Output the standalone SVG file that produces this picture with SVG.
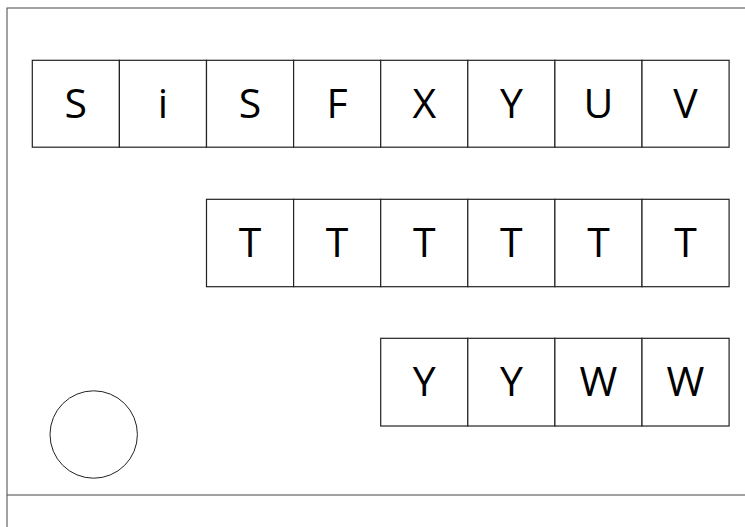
<svg xmlns="http://www.w3.org/2000/svg" width="745" height="527" viewBox="0 0 745 527">
<style>
.box{fill:#fff;stroke:#222;stroke-width:1.2}
.lbl{font-family:"Open Sans",Lato,sans-serif;font-size:41px;fill:#000;text-anchor:middle}
.frame{fill:none;stroke:#444;stroke-width:1}
</style>
<rect width="745" height="527" fill="#fff"/>
<g id="frame">
<rect class="frame" x="7" y="8" width="760" height="540"/>
<line class="frame" x1="7" y1="495" x2="745" y2="495" stroke="#222" stroke-width="1.5"/>
</g>
<g id="row1">
<g id="n1"><rect class="box" x="32.3" y="60.3" width="87.1" height="86.9"/><text class="lbl" x="75.85" y="118">S</text></g>
<g id="n2"><rect class="box" x="119.4" y="60.3" width="87.1" height="86.9"/><text class="lbl" x="162.95" y="118" font-size="44" font-weight="500">i</text></g>
<g id="n3"><rect class="box" x="206.5" y="60.3" width="87.1" height="86.9"/><text class="lbl" x="250.05" y="118">S</text></g>
<g id="n4"><rect class="box" x="293.6" y="60.3" width="87.1" height="86.9"/><text class="lbl" x="337.15" y="118">F</text></g>
<g id="n5"><rect class="box" x="380.7" y="60.3" width="87.1" height="86.9"/><text class="lbl" x="424.25" y="118">X</text></g>
<g id="n6"><rect class="box" x="467.8" y="60.3" width="87.1" height="86.9"/><text class="lbl" x="511.35" y="118">Y</text></g>
<g id="n7"><rect class="box" x="554.9" y="60.3" width="87.1" height="86.9"/><text class="lbl" x="598.45" y="118">U</text></g>
<g id="n8"><rect class="box" x="642" y="60.3" width="87.1" height="86.9"/><text class="lbl" x="685.55" y="118">V</text></g>
</g>
<g id="row2">
<g id="t1"><rect class="box" x="206.5" y="199.3" width="87.1" height="87.4"/><text class="lbl" x="250.05" y="257">T</text></g>
<g id="t2"><rect class="box" x="293.6" y="199.3" width="87.1" height="87.4"/><text class="lbl" x="337.15" y="257">T</text></g>
<g id="t3"><rect class="box" x="380.7" y="199.3" width="87.1" height="87.4"/><text class="lbl" x="424.25" y="257">T</text></g>
<g id="t4"><rect class="box" x="467.8" y="199.3" width="87.1" height="87.4"/><text class="lbl" x="511.35" y="257">T</text></g>
<g id="t5"><rect class="box" x="554.9" y="199.3" width="87.1" height="87.4"/><text class="lbl" x="598.45" y="257">T</text></g>
<g id="t6"><rect class="box" x="642" y="199.3" width="87.1" height="87.4"/><text class="lbl" x="685.55" y="257">T</text></g>
</g>
<g id="row3">
<g id="y1"><rect class="box" x="380.7" y="338.3" width="87.1" height="87.7"/><text class="lbl" x="424.25" y="395.5">Y</text></g>
<g id="y2"><rect class="box" x="467.8" y="338.3" width="87.1" height="87.7"/><text class="lbl" x="511.35" y="395.5">Y</text></g>
<g id="w1"><rect class="box" x="554.9" y="338.3" width="87.1" height="87.7"/><text class="lbl" x="598.45" y="395.5">W</text></g>
<g id="w2"><rect class="box" x="642" y="338.3" width="87.1" height="87.7"/><text class="lbl" x="685.55" y="395.5">W</text></g>
</g>
<g id="circle"><circle cx="93.7" cy="434.5" r="43.7" fill="#fff" stroke="#222" stroke-width="1"/></g>
<g id="connectors"/>
</svg>
